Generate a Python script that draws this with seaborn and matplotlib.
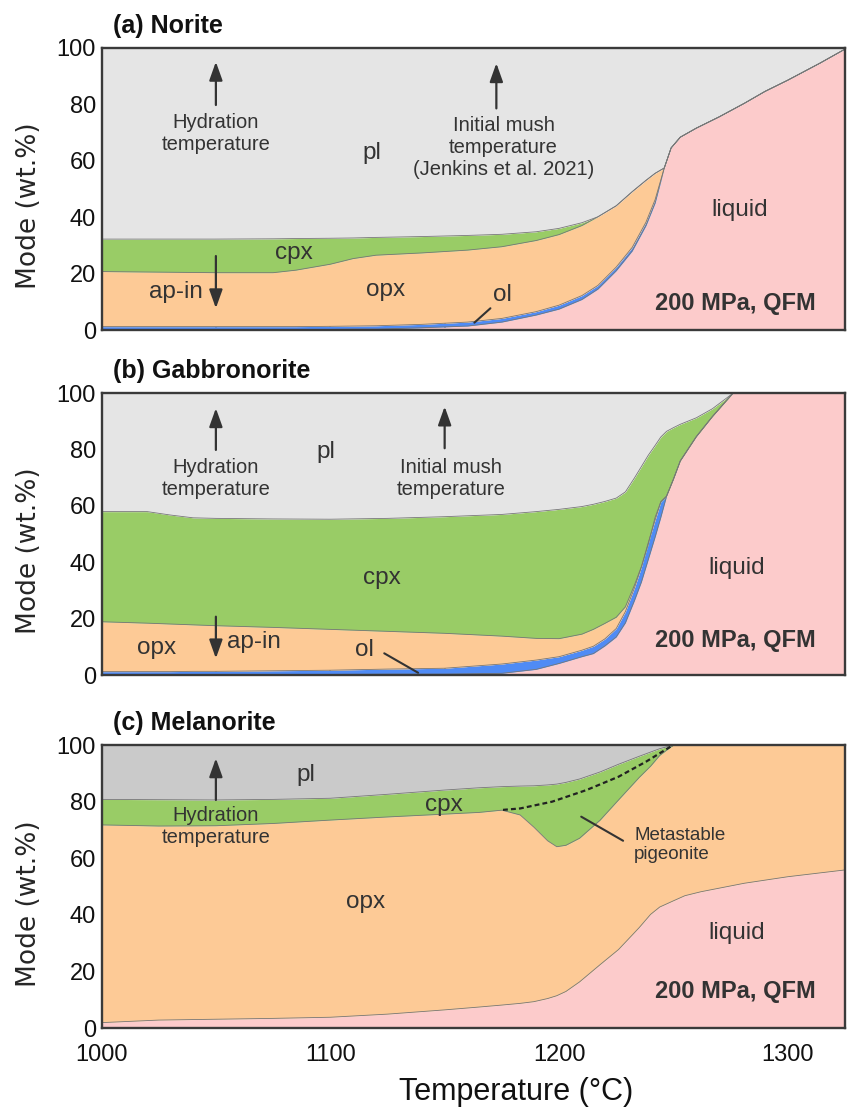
import numpy as np
import matplotlib
matplotlib.use("Agg")
import matplotlib.pyplot as plt
import seaborn as sns

# ---- data (cumulative mode boundaries, wt.%) ----
# (a) Norite: stacking liquid, ol, opx, cpx, pl
T_a = [1000, 1025, 1050, 1075, 1085, 1100, 1110, 1120, 1140, 1160, 1175, 1190, 1200,
       1210, 1217, 1225, 1232, 1238, 1242, 1246, 1249, 1253, 1260, 1270, 1281, 1290,
       1300, 1314, 1325]
liq_a = [0.2, 0.2, 0.2, 0.2, 0.2, 0.2, 0.3, 0.3, 0.8, 1.4, 2.8, 5.3, 7.4,
         10.8, 14.5, 21.0, 28.0, 37.0, 45.0, 57.4, 64.5, 68.3, 71.5, 75.5, 80.3, 84.5,
         88.5, 94.5, 99.5]
ol_a = [1.2, 1.2, 1.2, 1.2, 1.2, 1.3, 1.4, 1.5, 2.0, 2.8, 4.1, 6.5, 8.8,
        12.2, 15.8, 22.3, 29.3, 38.2, 46.2, 57.4, 64.5, 68.3, 71.5, 75.5, 80.3, 84.5,
        88.5, 94.5, 99.5]
opx_a = [20.7, 20.5, 20.3, 20.3, 21.2, 23.3, 25.3, 26.5, 27.3, 28.3, 29.5, 31.7, 33.8,
         37.0, 40.1, 44.0, 49.0, 53.0, 55.5, 57.4, 64.5, 68.3, 71.5, 75.5, 80.3, 84.5,
         88.5, 94.5, 99.5]
cpx_a = [32.2, 32.2, 32.2, 32.3, 32.4, 32.5, 32.6, 32.8, 33.1, 33.5, 33.9, 34.8, 36.0,
         38.0, 40.1, 44.0, 49.0, 53.0, 55.5, 57.4, 64.5, 68.3, 71.5, 75.5, 80.3, 84.5,
         88.5, 94.5, 99.5]

# (b) Gabbronorite: liquid, ol, opx, cpx, pl
T_b = [1000, 1020, 1030, 1040, 1050, 1075, 1100, 1125, 1150, 1175, 1190, 1200, 1210,
       1215, 1220, 1225, 1229, 1233, 1236, 1239, 1242, 1244.5, 1247, 1250, 1253, 1260,
       1267, 1276, 1300, 1325]
liq_b = [0.2, 0.2, 0.2, 0.2, 0.2, 0.2, 0.2, 0.3, 0.3, 0.6, 2.0, 4.1, 6.5,
         7.6, 10.3, 13.5, 18.5, 26.5, 33.0, 41.0, 49.0, 56.0, 63.5, 69.5, 76.0, 84.6,
         91.7, 100, 100, 100]
ol_b = [1.2, 1.2, 1.2, 1.3, 1.3, 1.5, 1.7, 2.1, 2.4, 3.9, 5.3, 6.5, 8.8,
        10.2, 12.8, 16.5, 22.5, 31.0, 38.3, 47.0, 55.0, 61.5, 63.5, 69.5, 76.0, 84.6,
        91.7, 100, 100, 100]
opx_b = [18.9, 18.4, 18.1, 17.8, 17.5, 16.9, 16.2, 15.5, 14.8, 13.8, 13.0, 12.9, 14.5,
         16.2, 18.3, 20.5, 24.2, 32.0, 38.5, 46.5, 56.0, 61.5, 63.5, 69.5, 76.0, 84.6,
         91.7, 100, 100, 100]
cpx_b = [58.0, 58.0, 56.8, 55.8, 55.6, 55.4, 55.3, 55.6, 56.2, 57.0, 58.0, 58.8, 59.8,
         60.6, 61.6, 62.8, 65.0, 70.0, 74.0, 78.0, 81.5, 84.5, 86.5, 87.8, 89.0, 91.3,
         94.5, 100, 100, 100]

# (c) Melanorite: liquid, opx, cpx, pl
T_c = [1000, 1025, 1050, 1075, 1100, 1125, 1150, 1165, 1175, 1183, 1189, 1195, 1199,
       1203, 1209, 1218, 1226, 1235, 1240, 1244, 1250, 1255, 1262, 1281, 1300, 1325]
liq_c = [2.0, 2.9, 3.2, 3.5, 3.9, 5.0, 6.5, 7.5, 8.2, 8.8, 9.4, 10.5, 11.5,
         13.0, 16.4, 22.5, 27.8, 35.5, 40.2, 42.8, 45.0, 46.8, 48.2, 51.2, 53.5, 55.9]
opx_c = [71.8, 71.4, 71.5, 72.3, 73.5, 74.6, 75.6, 76.2, 77.0, 75.3, 71.0, 66.2, 64.1,
         64.6, 67.1, 73.5, 80.6, 88.5, 92.5, 96.3, 100, 100, 100, 100, 100, 100]
cpx_c = [80.8, 80.7, 80.6, 80.8, 81.2, 82.6, 84.1, 84.9, 85.3, 85.5, 85.6, 85.9, 86.2,
         86.8, 88.0, 90.5, 93.2, 96.0, 97.5, 98.7, 100, 100, 100, 100, 100, 100]
# metastable pigeonite boundary (dashed)
T_pig = [1175.5, 1183, 1197, 1212, 1226, 1238, 1249.5]
pig = [77.1, 77.6, 80.0, 84.1, 88.8, 94.1, 99.8]

x_ticks = [1000, 1050, 1100, 1150, 1200, 1250, 1300]
x_tick_labels = ["1000", "", "1100", "", "1200", "", "1300"]
y_ticks = [0, 20, 40, 60, 80, 100]

c_pl = "#e5e5e5"
c_pl_dark = "#cacaca"
c_cpx = "#99cc66"
c_opx = "#fdca96"
c_ol = "#4f8bf5"
c_liq = "#fccbcb"
txt = "#333333"

sns.set_style("ticks")
plt.rcParams["font.family"] = ["Liberation Sans", "DejaVu Sans"]

fig = plt.figure(figsize=(8.47, 11.07), dpi=100)
W, H = 847, 1107
left, right = 101.5, 845
boxes = [(47.7, 330), (393.3, 675), (745, 1028.3)]
axes = []
for top, bot in boxes:
    ax = fig.add_axes([left / W, 1 - bot / H, (right - left) / W, (bot - top) / H])
    axes.append(ax)


def stack(ax, t, bounds, colors):
    t = np.asarray(t, float)
    lower = np.zeros_like(t)
    for b, c in zip(bounds, colors):
        b = np.asarray(b, float)
        ax.fill_between(t, lower, b, color=c, lw=0)
        lower = b
    # thin grey phase boundaries
    for b in bounds:
        sns.lineplot(x=t, y=np.asarray(b, float), ax=ax, color="#777777", lw=0.6,
                     estimator=None, sort=False, legend=False)


stack(axes[0], T_a, [liq_a, ol_a, opx_a, cpx_a, [100] * len(T_a)],
      [c_liq, c_ol, c_opx, c_cpx, c_pl])
stack(axes[1], T_b, [liq_b, ol_b, opx_b, cpx_b, [100] * len(T_b)],
      [c_liq, c_ol, c_opx, c_cpx, c_pl])
stack(axes[2], T_c, [liq_c, opx_c, cpx_c, [100] * len(T_c)],
      [c_liq, c_opx, c_cpx, c_pl_dark])
sns.lineplot(x=T_pig, y=pig, ax=axes[2], color="#222222", lw=1.6, ls=(0, (2.2, 1.4)),
             estimator=None, sort=False, legend=False)

titles = ["(a) Norite", "(b) Gabbronorite", "(c) Melanorite"]
for i, ax in enumerate(axes):
    ax.set_xlim(1000, 1325)
    ax.set_ylim(0, 100)
    ax.set_xticks(x_ticks)
    ax.set_yticks(y_ticks)
    ax.set_yticklabels([str(v) for v in y_ticks])
    if i == 2:
        ax.set_xticklabels(x_tick_labels)
    else:
        ax.set_xticklabels([])
    ax.tick_params(direction="in", length=6, width=1.3, color="#3a3a3a",
                   labelsize=17, labelcolor="#111111", top=True, right=True, pad=4)
    ax.tick_params(axis="x", pad=11)
    for s in ax.spines.values():
        s.set_visible(True)
        s.set_color("#3a3a3a")
        s.set_linewidth(1.7)
    ax.set_xlabel("")
    ax.set_ylabel("")
    ax.text(0.0155, 1 + 22 / 282.5, titles[i], transform=ax.transAxes,
            fontsize=18, fontweight="bold", va="center", ha="left", color="#111111")
    top, bot = boxes[i]
    fig.text(29.5 / W, 1 - ((top + bot) / 2 + 17) / H, "Mode (wt.%)",
             rotation=90, fontsize=19, family="DejaVu Sans", va="center", ha="center")

arrow = dict(arrowstyle="-|>,head_length=0.7,head_width=0.25", color=txt, lw=1.6,
             mutation_scale=16, shrinkA=0, shrinkB=0)
lab = dict(color=txt, ha="center", va="center")

# (a)
ax = axes[0]
ax.annotate("", xy=(1050, 95), xytext=(1050, 79.7), arrowprops=arrow)
ax.annotate("", xy=(1172.6, 94.5), xytext=(1172.6, 78.5), arrowprops=arrow)
ax.annotate("", xy=(1050, 7.7), xytext=(1050, 26.2), arrowprops=arrow)
ax.text(1050, 69.7, "Hydration\ntemperature", fontsize=14.5, **lab)
ax.text(1175.7, 64.8, "Initial mush\ntemperature\n(Jenkins et al. 2021)", fontsize=14.5, **lab)
ax.text(1118, 62.6, "pl", fontsize=17.5, **lab)
ax.text(1084, 27.2, "cpx", fontsize=17.5, **lab)
ax.text(1124, 14.2, "opx", fontsize=17.5, **lab)
ax.text(1175.4, 12.4, "ol", fontsize=17.5, **lab)
ax.plot([1170, 1163], [7.7, 2.6], color=txt, lw=1.5)
ax.text(1044.5, 13.6, "ap-in", fontsize=17.5, color=txt, ha="right", va="center")
ax.text(1279, 42.5, "liquid", fontsize=17.5, **lab)
ax.text(1312, 9.4, "200 MPa, QFM", fontsize=17, fontweight="bold", color=txt,
        ha="right", va="center")

# (b)
ax = axes[1]
ax.annotate("", xy=(1050, 94.7), xytext=(1050, 79.9), arrowprops=arrow)
ax.annotate("", xy=(1150, 95.3), xytext=(1150, 80.5), arrowprops=arrow)
ax.annotate("", xy=(1050, 5.9), xytext=(1050, 20.7), arrowprops=arrow)
ax.text(1050, 69.6, "Hydration\ntemperature", fontsize=14.5, **lab)
ax.text(1152.8, 69.8, "Initial mush\ntemperature", fontsize=14.5, **lab)
ax.text(1097.9, 79.3, "pl", fontsize=17.5, **lab)
ax.text(1122.6, 34.3, "cpx", fontsize=17.5, **lab)
ax.text(1024, 9.5, "opx", fontsize=17.5, **lab)
ax.text(1054.7, 11.8, "ap-in", fontsize=17.5, color=txt, ha="left", va="center")
ax.text(1114.8, 8.9, "ol", fontsize=17.5, **lab)
ax.plot([1123.6, 1138.4], [7.7, 0.8], color=txt, lw=1.5)
ax.text(1277.5, 37.9, "liquid", fontsize=17.5, **lab)
ax.text(1312, 12.4, "200 MPa, QFM", fontsize=17, fontweight="bold", color=txt,
        ha="right", va="center")

# (c)
ax = axes[2]
ax.annotate("", xy=(1050, 95.3), xytext=(1050, 80.6), arrowprops=arrow)
ax.text(1050, 71.4, "Hydration\ntemperature", fontsize=14.5, **lab)
ax.text(1089.4, 89.4, "pl", fontsize=17.5, **lab)
ax.text(1149.5, 78.8, "cpx", fontsize=17.5, **lab)
ax.text(1115.3, 44.7, "opx", fontsize=17.5, **lab)
ax.text(1277.6, 33.5, "liquid", fontsize=17.5, **lab)
ax.text(1312, 12.9, "200 MPa, QFM", fontsize=17, fontweight="bold", color=txt,
        ha="right", va="center")
ax.text(1232.8, 64.7, "Metastable\npigeonite", fontsize=13.5, color=txt, ha="left", va="center")
ax.plot([1209.7, 1228], [74.7, 66.2], color=txt, lw=1.5)

fig.text(516 / W, 1 - 1091.7 / H, "Temperature (\u00b0C)", fontsize=22,
         ha="center", va="center", color="#111111")

fig.savefig("out.png", dpi=100)
